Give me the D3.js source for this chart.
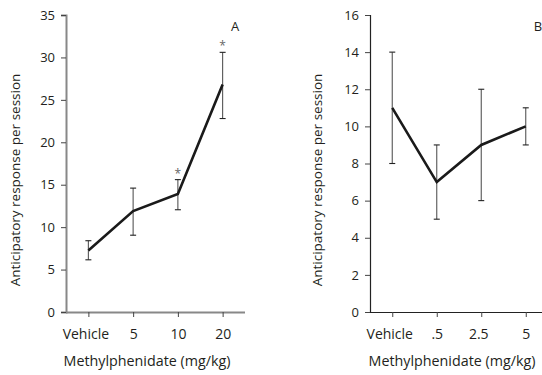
<!DOCTYPE html>
<html><head><meta charset="utf-8">
<script src="https://cdn.jsdelivr.net/npm/d3@7"></script>
<style>
body{margin:0;background:#fff;}
svg text{font-family:"Open Sans",sans-serif;fill:#231f20;}
</style></head>
<body><svg id="c" width="542" height="375"></svg>
<script>
const catsA = ["Vehicle","5","10","20"];
const meanA = [7.25, 11.9, 13.9, 26.8];
const lowA  = [6.15, 9.05, 12.05, 22.8];
const highA = [8.4, 14.6, 15.6, 30.6];
const sigA  = [false, false, true, true];
const ticksA = [0,5,10,15,20,25,30,35];

const catsB = ["Vehicle",".5","2.5","5"];
const meanB = [11, 7, 9, 10];
const lowB  = [8, 5, 6, 9];
const highB = [14, 9, 12, 11];
const sigB  = [false, false, false, false];
const ticksB = [0,2,4,6,8,10,12,14,16];

const svg = d3.select("#c");

function panel(o){
  const g = svg.append("g");
  const x = d3.scalePoint().domain(o.cats).range([o.x0, o.x1]).padding(0.5);
  const y = d3.scaleLinear().domain([0, o.ymax]).range([312, 15]);
  const ya = g.append("g").attr("transform",`translate(${o.x0},0)`)
    .call(d3.axisLeft(y).tickValues(o.ticks).tickSize(5).tickPadding(6));
  const xa = g.append("g").attr("transform",`translate(0,312)`)
    .call(d3.axisBottom(x).tickSize(5).tickPadding(12).tickSizeOuter(0));
  [ya,xa].forEach(a=>{
    a.select(".domain").attr("stroke",o.axisColor).attr("stroke-width",o.axisW);
    a.selectAll(".tick line").attr("stroke","#444").attr("stroke-width",1);
    a.selectAll("text").style("fill","#231f20");
  });
  ya.selectAll("text").attr("font-size",13);
  xa.selectAll("text").attr("font-size",14).attr("dx", d => d==="Vehicle" ? -3 : (d==="2.5" ? -3 : 0));
  ya.select(".domain").attr("d",`M-5,312.5H0.5V15.5H-5`);
  xa.select(".domain").attr("d",`M${o.x0},0.5H${o.x1}`);
  const eb = g.append("g").attr("stroke","#555").attr("stroke-width",1.1);
  o.cats.forEach((c,i)=>{
    const cx = x(c);
    eb.append("line").attr("x1",cx).attr("x2",cx).attr("y1",y(o.low[i])).attr("y2",y(o.high[i]));
    eb.append("line").attr("x1",cx-3).attr("x2",cx+3).attr("y1",y(o.low[i])).attr("y2",y(o.low[i])).attr("stroke","#222");
    eb.append("line").attr("x1",cx-3).attr("x2",cx+3).attr("y1",y(o.high[i])).attr("y2",y(o.high[i])).attr("stroke","#222");
    if(o.sig[i]) g.append("text").attr("x",cx).attr("y",y(o.high[i])-2)
      .attr("text-anchor","middle").attr("font-size",12).style("fill","#666").text("*");
  });
  g.append("path").datum(o.cats.map((c,i)=>[x(c),y(o.mean[i])]))
    .attr("d",d3.line()).attr("fill","none").attr("stroke","#1a1a1a").attr("stroke-width",2.6)
    .attr("stroke-linejoin","miter");
  g.append("text").attr("transform",`translate(${o.ylabX},180) rotate(-90)`)
    .attr("text-anchor","middle").attr("font-size",13.5).attr("dy","0.35em").text("Anticipatory response per session");
  g.append("text").attr("x",(o.x0+o.x1)/2+ o.xlabDx).attr("y",366)
    .attr("text-anchor","middle").attr("font-size",14.3).text("Methylphenidate (mg/kg)");
  g.append("text").attr("x",o.letterX).attr("y",31).attr("text-anchor","middle").attr("font-size",13).text(o.letter);
}

panel({cats:catsA, mean:meanA, low:lowA, high:highA, sig:sigA, ticks:ticksA, ymax:35,
  x0:66, x1:245, axisColor:"#888", axisW:2, ylabX:15, xlabDx:-8.5, letter:"A", letterX:235});
panel({cats:catsB, mean:meanB, low:lowB, high:highB, sig:sigB, ticks:ticksB, ymax:16,
  x0:370, x1:548, axisColor:"#222", axisW:1.2, ylabX:317, xlabDx:-7, letter:"B", letterX:538});
</script></body></html>
